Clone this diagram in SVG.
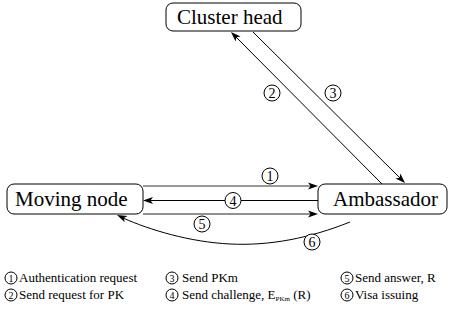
<svg xmlns="http://www.w3.org/2000/svg" width="451" height="320" viewBox="0 0 451 320">
  <rect width="451" height="320" fill="#fff"/>

  <!-- connectors: shafts, then filled arrowheads drawn in place -->
  <g id="connectors" stroke="#000" stroke-width="1">
    <line x1="143" y1="186" x2="312" y2="186" stroke="#333"/>
    <line x1="318" y1="200.5" x2="149" y2="200.5"/>
    <line x1="143" y1="214" x2="312" y2="214" stroke="#222"/>
    <line x1="382" y1="184" x2="236" y2="37"/>
    <line x1="253" y1="32" x2="400" y2="178"/>
    <path d="M350,222 C310,238 270,246 230,244 C190,242 150,230 123,218" fill="none"/>
    <g fill="#000" stroke="none">
      <polygon points="318,186 308,182.5 310.5,186 308,189.5"/>
      <polygon points="143,200.5 153,197 150.5,200.5 153,204"/>
      <polygon points="318,214 308,210.5 310.5,214 308,217.5"/>
      <polygon points="231,32 240.5,36.6 236.3,37.3 235.6,41.6"/>
      <polygon points="405,183 395.4,178.4 399.7,177.7 400.4,173.5"/>
      <polygon points="117,215 127.6,216 123.8,218.1 124.7,222.3"/>
    </g>
  </g>

  <!-- step numbers on the connectors -->
  <g id="n1"><circle cx="270" cy="176" r="8" fill="#fff" stroke="#000"/><text font-family="Liberation Serif" font-size="14" text-anchor="middle" x="270" y="181">1</text></g>
  <g id="n2"><circle cx="272" cy="93" r="8" fill="#fff" stroke="#000"/><text font-family="Liberation Serif" font-size="14" text-anchor="middle" x="272" y="98">2</text></g>
  <g id="n3"><circle cx="333" cy="93" r="8" fill="#fff" stroke="#000"/><text font-family="Liberation Serif" font-size="14" text-anchor="middle" x="333" y="98">3</text></g>
  <g id="n4"><circle cx="233" cy="200.5" r="8" fill="#fff" stroke="#000"/><text font-family="Liberation Serif" font-size="14" text-anchor="middle" x="233" y="205.5">4</text></g>
  <g id="n5"><circle cx="202" cy="224" r="8" fill="#fff" stroke="#000"/><text font-family="Liberation Serif" font-size="14" text-anchor="middle" x="202" y="229">5</text></g>
  <g id="n6"><circle cx="312" cy="242" r="8" fill="#fff" stroke="#000"/><text font-family="Liberation Serif" font-size="14" text-anchor="middle" x="312" y="247">6</text></g>

  <!-- nodes -->
  <g id="cluster-head">
    <rect x="166" y="3" width="135" height="28" rx="7" fill="#fff" stroke="#000"/>
    <text font-family="Liberation Serif" font-size="21" x="177" y="24">Cluster head</text>
  </g>
  <g id="moving-node">
    <rect x="7" y="184" width="136" height="30" rx="7" fill="#fff" stroke="#000"/>
    <text font-family="Liberation Serif" font-size="21" x="15" y="206">Moving node</text>
  </g>
  <g id="ambassador">
    <rect x="318" y="184" width="129" height="30" rx="7" fill="#fff" stroke="#000"/>
    <text font-family="Liberation Serif" font-size="21" x="333" y="206">Ambassador</text>
  </g>

  <!-- key -->
  <g id="key">
    <circle cx="11" cy="278" r="6" fill="#fff" stroke="#000"/><text font-family="Liberation Serif" font-size="10" text-anchor="middle" x="11" y="281.5">1</text>
    <text font-family="Liberation Serif" font-size="13" x="19" y="282">Authentication request</text>
    <circle cx="11" cy="295" r="6" fill="#fff" stroke="#000"/><text font-family="Liberation Serif" font-size="10" text-anchor="middle" x="11" y="298.5">2</text>
    <text font-family="Liberation Serif" font-size="13" x="19" y="299">Send request for PK</text>

    <circle cx="172" cy="278" r="6" fill="#fff" stroke="#000"/><text font-family="Liberation Serif" font-size="10" text-anchor="middle" x="172" y="281.5">3</text>
    <text font-family="Liberation Serif" font-size="13" x="182" y="282">Send PKm</text>
    <circle cx="172" cy="295" r="6" fill="#fff" stroke="#000"/><text font-family="Liberation Serif" font-size="10" text-anchor="middle" x="172" y="298.5">4</text>
    <text font-family="Liberation Serif" font-size="13" x="182" y="299">Send challenge, E<tspan font-size="7" dy="2">PKm</tspan><tspan dy="-2"> (R)</tspan></text>

    <circle cx="347" cy="278" r="6" fill="#fff" stroke="#000"/><text font-family="Liberation Serif" font-size="10" text-anchor="middle" x="347" y="281.5">5</text>
    <text font-family="Liberation Serif" font-size="13" x="355" y="282">Send answer, R</text>
    <circle cx="347" cy="295" r="6" fill="#fff" stroke="#000"/><text font-family="Liberation Serif" font-size="10" text-anchor="middle" x="347" y="298.5">6</text>
    <text font-family="Liberation Serif" font-size="13" x="355" y="299">Visa issuing</text>
  </g>
</svg>
